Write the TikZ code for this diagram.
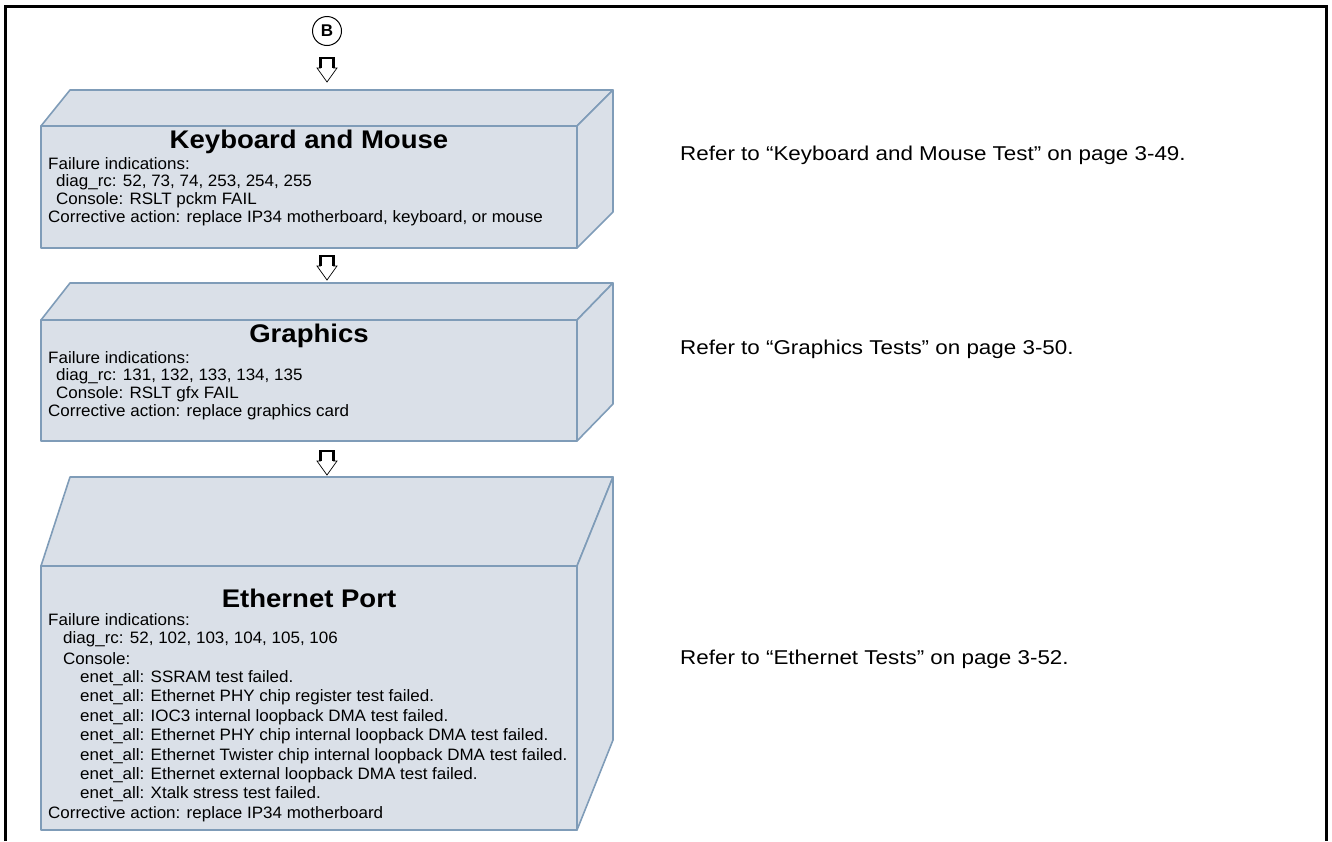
\documentclass[tikz,border=0pt]{standalone}
\usepackage{fontspec}
\setmainfont{Liberation Sans}
\newfontfamily\widefont[FakeStretch=1.03]{Liberation Sans}
\newfontfamily\reffont[FakeStretch=1.12]{Liberation Sans}
\newfontfamily\ttlfont[FakeStretch=1.08]{Liberation Sans}
\definecolor{boxfill}{HTML}{DAE0E8}
\definecolor{boxline}{HTML}{7F9CB8}
\begin{document}
\begin{tikzpicture}[x=1pt,y=-1pt,
  face/.style={fill=boxfill,draw=boxline,line width=1.6pt,line join=round},
  ttl/.style={font=\ttlfont\bfseries\fontsize{25.5}{28}\selectfont,inner sep=0pt},
  txt/.style={anchor=west,font=\widefont\fontsize{16.5}{18}\selectfont,inner sep=0pt},
  reftxt/.style={anchor=west,font=\reffont\fontsize{20}{22}\selectfont,inner sep=0pt},
  frame/.style={line width=3pt},
  arrthin/.style={line width=0.7pt,black},
  arrthick/.style={line width=2.4pt,black}]
\useasboundingbox (0,0) rectangle (1332,841);
\draw[frame] (5,841) -- (5,6) -- (1326,6) -- (1326,841);

% circle B
\node[circle,draw,line width=1pt,minimum size=29pt,inner sep=0pt,font=\bfseries\fontsize{17}{18}\selectfont] (B) at (327,31) {B};

% block arrows
\newcommand{\blockarr}[2]{%
  \draw[arrthin,fill=white] (#1-6.5,#2) -- (#1+6.5,#2) -- (#1+6.5,#2+10) -- (#1+10,#2+10) -- (#1,#2+24) -- (#1-10,#2+10) -- (#1-6.5,#2+10) -- cycle;
  \draw[arrthick,line join=miter] (#1-6.5,#2+10) -- (#1-6.5,#2) -- (#1+6.5,#2) -- (#1+6.5,#2+10);}
\blockarr{327}{58}
\blockarr{327}{256}
\blockarr{327}{451}

% box 1
\draw[face] (41,126) -- (70,90) -- (613,90) -- (577,126) -- cycle;
\draw[face] (577,126) -- (613,90) -- (613,212) -- (577,248) -- cycle;
\draw[face] (41,126) rectangle (577,248);
\node[ttl] (t1) at (309,142) {Keyboard and Mouse};
\node[txt] (a1) at (48,164) {Failure indications:};
\node[txt] (a2) at (56,182) {diag\_rc: 52, 73, 74, 253, 254, 255};
\node[txt] (a3) at (56,200) {Console: RSLT pckm FAIL};
\node[txt] (a4) at (48,218) {Corrective action: replace IP34 motherboard, keyboard, or mouse};

% box 2
\draw[face] (41,320) -- (70,283) -- (613,283) -- (577,320) -- cycle;
\draw[face] (577,320) -- (613,283) -- (613,404) -- (577,441) -- cycle;
\draw[face] (41,320) rectangle (577,441);
\node[ttl] (t2) at (309,336) {Graphics};
\node[txt] (b1) at (48,358) {Failure indications:};
\node[txt] (b2) at (56,376) {diag\_rc: 131, 132, 133, 134, 135};
\node[txt] (b3) at (56,394) {Console: RSLT gfx FAIL};
\node[txt] (b4) at (48,412) {Corrective action: replace graphics card};

% box 3
\draw[face] (41,566) -- (70,477) -- (613,477) -- (577,566) -- cycle;
\draw[face] (577,566) -- (613,477) -- (613,740) -- (577,830) -- cycle;
\draw[face] (41,566) rectangle (577,830);
\node[ttl] (t3) at (309,598) {Ethernet Port};
\node[txt] (c1) at (48,620) {Failure indications:};
\node[txt] (c2) at (63,639.4) {diag\_rc: 52, 102, 103, 104, 105, 106};
\node[txt] (c3) at (63,658.8) {Console:};
\node[txt] (c4) at (80,678.2) {enet\_all: SSRAM test failed.};
\node[txt] (c5) at (80,697.6) {enet\_all: Ethernet PHY chip register test failed.};
\node[txt] (c6) at (80,717) {enet\_all: IOC3 internal loopback DMA test failed.};
\node[txt] (c7) at (80,736.4) {enet\_all: Ethernet PHY chip internal loopback DMA test failed.};
\node[txt] (c8) at (80,755.8) {enet\_all: Ethernet Twister chip internal loopback DMA test failed.};
\node[txt] (c9) at (80,775.2) {enet\_all: Ethernet external loopback DMA test failed.};
\node[txt] (c10) at (80,794.6) {enet\_all: Xtalk stress test failed.};
\node[txt] (c11) at (48,814) {Corrective action: replace IP34 motherboard};

% right texts
\node[reftxt] (r1) at (680,155) {Refer to “Keyboard and Mouse Test” on page 3-49.};
\node[reftxt] (r2) at (680,349) {Refer to “Graphics Tests” on page 3-50.};
\node[reftxt] (r3) at (680,659) {Refer to “Ethernet Tests” on page 3-52.};
\end{tikzpicture}
\end{document}
